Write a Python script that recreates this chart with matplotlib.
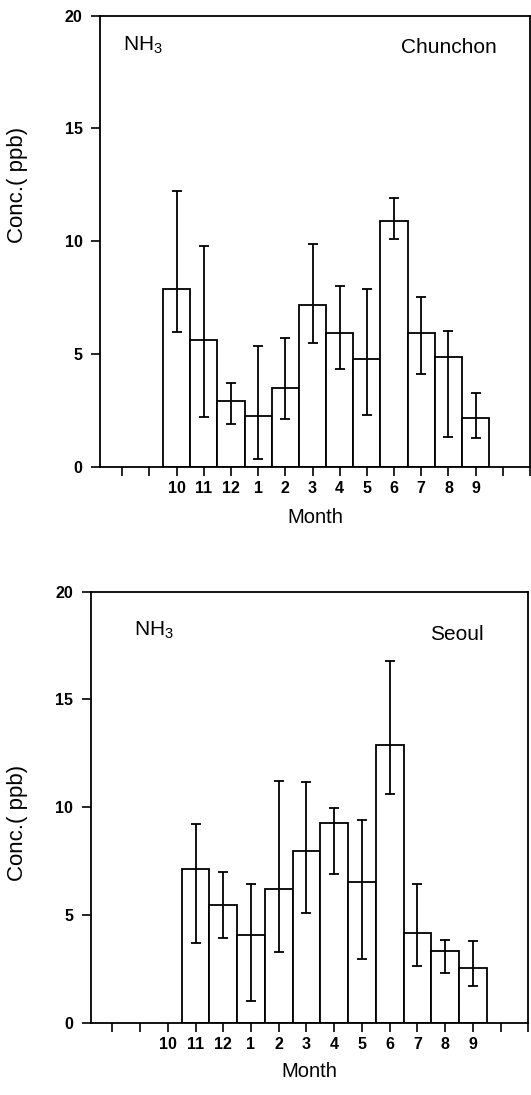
import numpy as np
import matplotlib
matplotlib.use("Agg")
import matplotlib.pyplot as plt

plt.rcParams['font.family'] = ['Liberation Sans', 'DejaVu Sans']
plt.rcParams['mathtext.fontset'] = 'custom'
plt.rcParams['mathtext.rm'] = 'Liberation Sans'
plt.rcParams['mathtext.it'] = 'Liberation Sans'

# month axis: two empty slots before October, one after September
tick_labels = ['', '', '10', '11', '12', '1', '2', '3', '4', '5', '6', '7', '8', '9', '', '']

# Chunchon, Oct..Sep
chun_months = ['10', '11', '12', '1', '2', '3', '4', '5', '6', '7', '8', '9']
chun_mean = [7.86, 5.63, 2.93, 2.25, 3.49, 7.18, 5.94, 4.76, 10.91, 5.91, 4.85, 2.16]
chun_upper = [12.22, 9.79, 3.71, 5.37, 5.72, 9.89, 8.03, 7.86, 11.91, 7.54, 6.03, 3.28]
chun_lower = [5.99, 2.19, 1.91, 0.33, 2.13, 5.50, 4.33, 2.31, 10.10, 4.09, 1.30, 1.27]

# Seoul, Nov..Sep (no October value)
seoul_months = ['11', '12', '1', '2', '3', '4', '5', '6', '7', '8', '9']
seoul_mean = [7.15, 5.45, 4.06, 6.19, 7.97, 9.25, 6.53, 12.90, 4.15, 3.34, 2.56]
seoul_upper = [9.24, 6.98, 6.46, 11.24, 11.18, 9.96, 9.41, 16.80, 6.46, 3.85, 3.80]
seoul_lower = [3.71, 3.94, 1.03, 3.26, 5.11, 6.92, 2.95, 10.63, 2.64, 2.29, 1.70]


def plot_panel(ax, months, mean, upper, lower, site, xmin, nh3_pos, site_pos, ylab_pos):
    x = [tick_labels.index(m) for m in months]
    mean = np.array(mean)
    yerr = [mean - np.array(lower), np.array(upper) - mean]
    ax.bar(x, mean, width=1.0, facecolor='white', edgecolor='black', linewidth=1.3, zorder=2)
    ax.errorbar(x, mean, yerr=yerr, fmt='none', ecolor='black', elinewidth=1.3,
                capsize=3.5, capthick=1.3, zorder=3)

    ax.set_xlim(xmin, len(tick_labels) - 1)
    ax.set_ylim(0, 20)
    ax.set_xticks(np.arange(len(tick_labels)))
    ax.set_xticklabels(tick_labels, fontweight='bold', fontsize=11.5)
    ax.set_yticks([0, 5, 10, 15, 20])
    ax.set_yticklabels(['0', '5', '10', '15', '20'], fontweight='bold', fontsize=11.5)
    ax.tick_params(direction='out', length=6.5, width=1.2, pad=3.5)
    ax.tick_params(axis='y', pad=6)
    for s in ax.spines.values():
        s.set_linewidth(1.3)

    ax.set_xlabel('Month', fontsize=14.5, va='top')
    ax.xaxis.set_label_coords(0.5, ylab_pos[2])
    ax.set_ylabel('Conc.( ppb)', fontsize=16)
    ax.yaxis.set_label_coords(ylab_pos[0], ylab_pos[1])

    ax.text(nh3_pos[0], nh3_pos[1], r'NH$_\mathregular{3}$', transform=ax.transAxes,
            fontsize=15, ha='left', va='baseline')
    ax.text(site_pos[0], site_pos[1], site, transform=ax.transAxes,
            fontsize=15, ha='right', va='baseline')


fig = plt.figure(figsize=(5.31, 10.95), dpi=100)
ax1 = fig.add_axes([0.1883, 0.5738, 0.8098, 0.4119])
ax2 = fig.add_axes([0.1708, 0.0660, 0.8241, 0.3936])

plot_panel(ax1, chun_months, chun_mean, chun_upper, chun_lower, 'Chunchon', -0.82,
           (0.053, 0.922), (0.923, 0.917), (-0.167, 0.625, -0.0916))
plot_panel(ax2, seoul_months, seoul_mean, seoul_upper, seoul_lower, 'Seoul', -0.78,
           (0.0996, 0.897), (0.899, 0.888), (-0.143, 0.463, -0.0905))

fig.savefig('out.png', dpi=100)
